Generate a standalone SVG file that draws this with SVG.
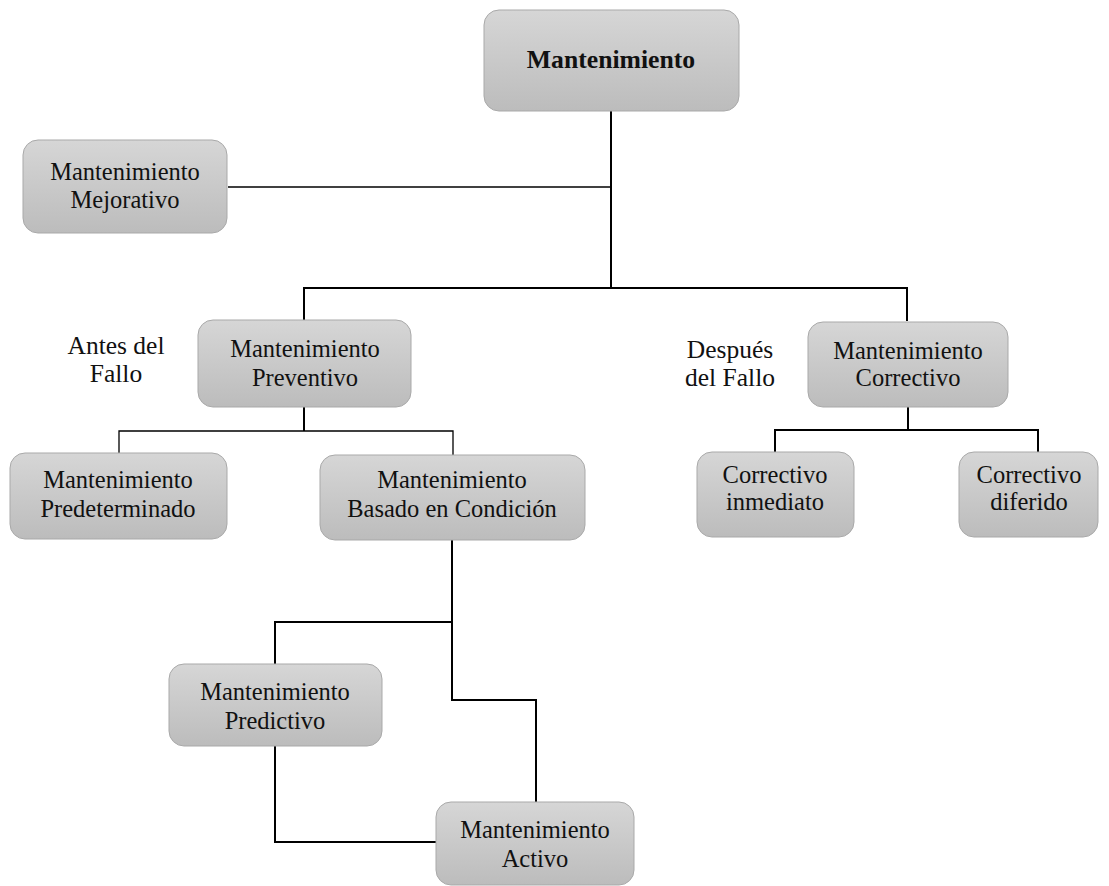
<svg xmlns="http://www.w3.org/2000/svg" width="1109" height="886" viewBox="0 0 1109 886">
  <defs>
    <linearGradient id="boxFill" x1="0" y1="0" x2="0" y2="1">
      <stop offset="0" stop-color="#d6d6d6"/>
      <stop offset="1" stop-color="#bcbcbc"/>
    </linearGradient>
  </defs>
  <style>
    .box { fill: url(#boxFill); stroke: #a9a9a9; stroke-width: 1; }
    .lbl { font-family: "Liberation Serif", "Times New Roman", serif; font-size: 24.5px; fill: #111; text-anchor: middle; }
    .title { font-weight: bold; font-size: 25.7px; }
    .side { font-size: 25.5px; }
    .wire { fill: none; stroke: #000; stroke-width: 2; stroke-linejoin: miter; }
    .thin { stroke-width: 1.3; }
  </style>

  <rect width="1109" height="886" fill="#ffffff"/>

  <!-- connectors -->
  <g id="connectors">
    <path class="wire" d="M611 111 V288"/>
    <path class="wire thin" d="M228 187 H611"/>
    <path class="wire" d="M304 320 V288 H611"/>
    <path class="wire" d="M611 288 H907 V321"/>
    <path class="wire" d="M304 407 V431"/>
    <path class="wire thin" d="M119 453 V431 H453 V455"/>
    <path class="wire" d="M908 407 V430"/>
    <path class="wire" d="M775 452 V430 H1038 V452"/>
    <path class="wire" d="M452 540 V700 H536 V802"/>
    <path class="wire" d="M275 664 V622 H452"/>
    <path class="wire" d="M275 746 V842 H436"/>
  </g>

  <g id="mantenimiento">
    <rect class="box" x="484" y="10" width="255" height="101" rx="15"/>
    <text class="lbl title" x="611" y="68">Mantenimiento</text>
  </g>

  <g id="mejorativo">
    <rect class="box" x="23" y="140" width="204" height="93" rx="15"/>
    <text class="lbl" x="125" y="180">Mantenimiento</text>
    <text class="lbl" x="125" y="208">Mejorativo</text>
  </g>

  <g id="antes-label">
    <text class="lbl side" x="116" y="354">Antes del</text>
    <text class="lbl side" x="116" y="382">Fallo</text>
  </g>

  <g id="preventivo">
    <rect class="box" x="198" y="320" width="213" height="87" rx="15"/>
    <text class="lbl" x="305" y="357">Mantenimiento</text>
    <text class="lbl" x="305" y="386">Preventivo</text>
  </g>

  <g id="despues-label">
    <text class="lbl side" x="730" y="358">Después</text>
    <text class="lbl side" x="730" y="386">del Fallo</text>
  </g>

  <g id="correctivo">
    <rect class="box" x="808" y="322" width="200" height="85" rx="15"/>
    <text class="lbl" x="908" y="359">Mantenimiento</text>
    <text class="lbl" x="908" y="386">Correctivo</text>
  </g>

  <g id="predeterminado">
    <rect class="box" x="10" y="453" width="217" height="86" rx="15"/>
    <text class="lbl" x="118" y="488">Mantenimiento</text>
    <text class="lbl" x="118" y="517">Predeterminado</text>
  </g>

  <g id="basado-condicion">
    <rect class="box" x="320" y="455" width="265" height="85" rx="15"/>
    <text class="lbl" x="452" y="488">Mantenimiento</text>
    <text class="lbl" x="452" y="517">Basado en Condición</text>
  </g>

  <g id="correctivo-inmediato">
    <rect class="box" x="697" y="452" width="157" height="85" rx="15"/>
    <text class="lbl" x="775" y="483">Correctivo</text>
    <text class="lbl" x="775" y="510">inmediato</text>
  </g>

  <g id="correctivo-diferido">
    <rect class="box" x="959" y="452" width="139" height="85" rx="15"/>
    <text class="lbl" x="1029" y="483">Correctivo</text>
    <text class="lbl" x="1029" y="510">diferido</text>
  </g>

  <g id="predictivo">
    <rect class="box" x="169" y="664" width="213" height="82" rx="15"/>
    <text class="lbl" x="275" y="700">Mantenimiento</text>
    <text class="lbl" x="275" y="729">Predictivo</text>
  </g>

  <g id="activo">
    <rect class="box" x="436" y="802" width="198" height="83" rx="15"/>
    <text class="lbl" x="535" y="838">Mantenimiento</text>
    <text class="lbl" x="535" y="867">Activo</text>
  </g>
</svg>
